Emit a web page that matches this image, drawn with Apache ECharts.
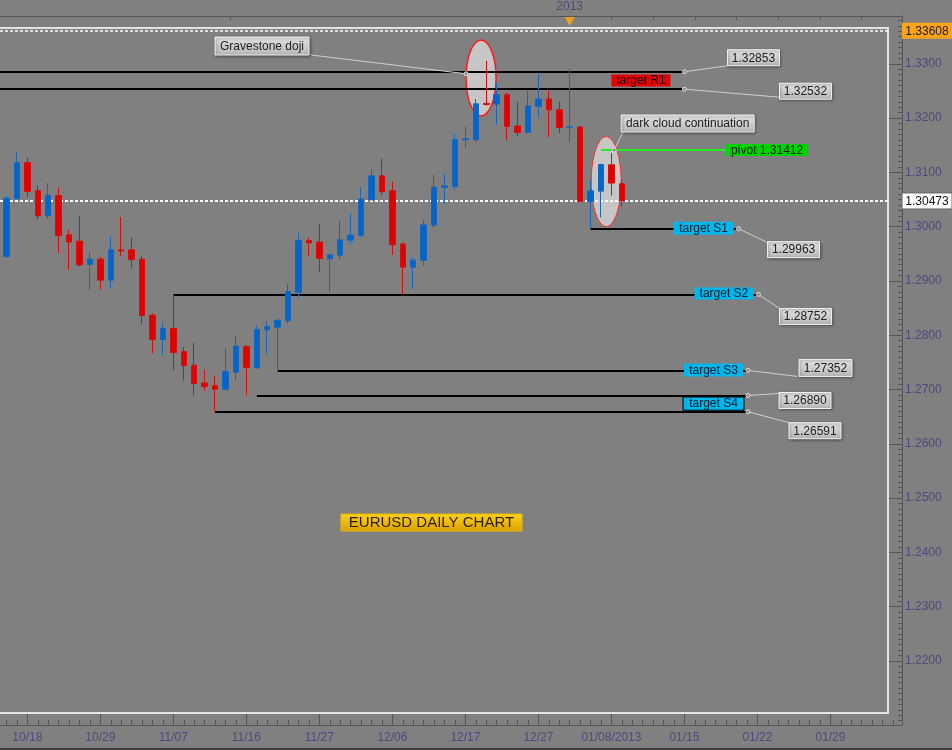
<!DOCTYPE html>
<html><head><meta charset="utf-8">
<script src="https://cdn.jsdelivr.net/npm/echarts@6/dist/echarts.min.js"></script>
<style>html,body{margin:0;padding:0;background:#808080;}#c{width:952px;height:750px;}</style>
</head><body><div id="c"></div>
<script>
// ---------- DATA ----------
const dates = ['10/16','10/17','10/18','10/19','10/22','10/23','10/24','10/25','10/26','10/29',
 '10/30','10/31','11/01','11/02','11/05','11/06','11/07','11/08','11/09','11/12',
 '11/13','11/14','11/15','11/16','11/19','11/20','11/21','11/22','11/23','11/26',
 '11/27','11/28','11/29','11/30','12/03','12/04','12/05','12/06','12/07','12/10',
 '12/11','12/12','12/13','12/14','12/17','12/18','12/19','12/20','12/21','12/24',
 '12/26','12/27','12/28','12/31','01/02','01/03','01/04','01/07','01/08','01/09'];
const opens = [1.29449,1.30512,1.31181,1.30660,1.30199,1.30573,1.29849,1.29733,1.29302,1.29401,
 1.29014,1.29573,1.29573,1.29401,1.28369,1.27920,1.28123,1.27699,1.27448,1.27122,
 1.27072,1.27006,1.27319,1.27791,1.27398,1.28099,1.28148,1.28264,1.28793,1.29744,
 1.29715,1.29407,1.29475,1.29751,1.29836,1.30494,1.30936,1.30660,1.29678,1.29254,
 1.29376,1.30028,1.30721,1.30739,1.31600,1.31600,1.32270,1.32257,1.32429,1.31852,
 1.31734,1.32213,1.32350,1.32152,1.31830,1.31834,1.30463,1.30654,1.31139,1.30789];
const closes = [1.30525,1.31181,1.30647,1.30199,1.30573,1.29836,1.29715,1.29296,1.29401,1.29014,
 1.29573,1.29554,1.29394,1.28362,1.27920,1.28123,1.27680,1.27441,1.27109,1.27054,
 1.27006,1.27330,1.27798,1.27404,1.28104,1.28159,1.28277,1.28804,1.29744,1.29702,
 1.29412,1.29480,1.29757,1.29844,1.30507,1.30936,1.30641,1.29665,1.29254,1.29383,
 1.30033,1.30728,1.30752,1.31605,1.31620,1.32263,1.32250,1.32429,1.31845,1.31734,
 1.32226,1.32350,1.32152,1.31826,1.31840,1.30463,1.30660,1.31144,1.30802,1.30473];
const lows = [1.29420,1.30503,1.30544,1.30125,1.30144,1.29512,1.29204,1.29265,1.28823,1.28836,
 1.28860,1.29449,1.29235,1.28204,1.27669,1.27632,1.27349,1.27164,1.26888,1.26975,
 1.26591,1.26993,1.27164,1.26890,1.27385,1.27638,1.27352,1.28222,1.28683,1.29449,
 1.29154,1.28799,1.29388,1.29678,1.29807,1.30485,1.30586,1.29480,1.28762,1.28854,
 1.29278,1.29973,1.30415,1.30678,1.31447,1.31550,1.32226,1.31876,1.31587,1.31660,
 1.31729,1.32010,1.31649,1.31723,1.31568,1.30463,1.29963,1.30168,1.30573,1.30370];
const highs = [1.30568,1.31366,1.31268,1.30752,1.30802,1.30728,1.29941,1.30199,1.29541,1.29438,
 1.29812,1.30175,1.29799,1.29468,1.28406,1.28233,1.28743,1.27780,1.27865,1.27362,
 1.27256,1.27761,1.27988,1.27817,1.28178,1.28264,1.28296,1.28946,1.29880,1.29807,
 1.30052,1.29493,1.30107,1.30249,1.30728,1.31060,1.31250,1.30831,1.29707,1.29438,
 1.30125,1.30955,1.30973,1.31710,1.31845,1.32350,1.33055,1.32644,1.32471,1.32305,
 1.32508,1.32816,1.32502,1.32305,1.32908,1.31858,1.30863,1.31160,1.31354,1.30863];
const xTickPos = [2,9,16,23,30,37,44,51,58,65,72,79];
const xTickLabels = ['10/18','10/29','11/07','11/16','11/27','12/06','12/17','12/27','01/08/2013','01/15','01/22','01/29'];
const topTickPos = [21.5,58,62,66,70,74,78,82];
const yTickValues = [1.22,1.23,1.24,1.25,1.26,1.27,1.28,1.29,1.30,1.31,1.32,1.33];
const levelValues = [1.32853,1.32532,1.31412,1.29963,1.28752,1.27352,1.26890,1.26591];
const levelStart = [null,null,57,56,16,26,24,20];
const levelEnd = [65,65,69,70,72,71,71,71];
const lastPrice = 1.30473;
const maxPrice = 1.33608;
const yearMarkIdx = 54;
const dojiCenter = [45.5,1.3274];
const cloudCenter = [57.5,1.3083];

// ---------- CHART ----------
const X0 = -0.62, X1 = 85.86, Y0 = 1.2082, Y1 = 1.3388;
const FONT = '"Liberation Sans", Arial, sans-serif';
const AX = '#4a4a80';
const chart = echarts.init(document.getElementById('c'), null, {renderer:'canvas'});
const minorX = []; for (let i = 0; i <= 85; i++) minorX.push(i);
const minorY = []; for (let k = 1209; k <= 1338; k++) minorY.push(k / 1000);
const candleData = dates.map((d, i) => [i, opens[i], closes[i], lows[i], highs[i]]);

const levelLines = levelValues.map((v, i) => [
  {coord:[levelStart[i] == null ? X0 : levelStart[i], v]},
  {coord:[levelEnd[i], v], lineStyle: i === 2 ? {color:'#22ee22', width:2, type:'solid'} : undefined}
]);
const markData = levelLines.concat([
  [{coord:[X0, lastPrice], lineStyle:{color:'#ffffff', width:2, type:[3,2]}}, {coord:[84.5, lastPrice]}],
  [{coord:[X0, maxPrice], lineStyle:{color:'#ffffff', width:1.5, type:[3,2]}}, {coord:[84.5, maxPrice]}]
]);

const option = {
  backgroundColor:'#808080',
  animation:false,
  grid:{left:0, right:50, top:16, bottom:25},
  xAxis:[
    {type:'value', min:X0, max:X1, position:'bottom',
     axisLine:{onZero:false, lineStyle:{color:'#555', width:1}},
     axisTick:{inside:true, length:13, customValues:xTickPos, lineStyle:{color:'#555'}},
     axisLabel:{customValues:xTickPos, color:AX, fontFamily:FONT, fontSize:12, margin:7,
       formatter:v => { const k = xTickPos.indexOf(Math.round(v)); return k >= 0 ? xTickLabels[k] : ''; }},
     splitLine:{show:false}},
    {type:'value', min:X0, max:X1, position:'bottom',
     axisLine:{show:false, onZero:false},
     axisTick:{inside:true, length:5, customValues:minorX, lineStyle:{color:'#555'}},
     axisLabel:{show:false}, splitLine:{show:false}},
    {type:'value', min:X0, max:X1, position:'top',
     axisLine:{onZero:false, lineStyle:{color:'#555'}},
     axisTick:{inside:true, length:4, customValues:topTickPos, lineStyle:{color:'#555'}},
     axisLabel:{show:false}, splitLine:{show:false}}
  ],
  yAxis:[
    {type:'value', min:Y0, max:Y1, position:'right',
     axisLine:{show:true, onZero:false, lineStyle:{color:'#555'}},
     axisTick:{inside:true, length:14, customValues:yTickValues, lineStyle:{color:'#555'}},
     axisLabel:{customValues:yTickValues, color:AX, fontFamily:FONT, fontSize:12, margin:3,
       formatter:v => v.toFixed(4)},
     splitLine:{show:false}},
    {type:'value', min:Y0, max:Y1, position:'right',
     axisLine:{show:false, onZero:false},
     axisTick:{inside:true, length:4, customValues:minorY, lineStyle:{color:'#555'}},
     axisLabel:{show:false}, splitLine:{show:false}}
  ],
  series:[{
    type:'candlestick', xAxisIndex:0, yAxisIndex:0, barWidth:6, z:5,
    data:candleData,
    itemStyle:{color:'#0066cc', color0:'#e00000', borderColor:'#1a66b8', borderColor0:'#d41010', borderWidth:1},
    markLine:{silent:true, symbol:['none','none'], label:{show:false}, animation:false,
      lineStyle:{color:'#000', width:2, type:'solid'}, data:markData}
  }]
};
chart.setOption(option);

// ---------- ANNOTATIONS ----------
const px = (x, y) => chart.convertToPixel({seriesIndex:0}, [x, y]);
const g = [];
const grad = (a, b) => new echarts.graphic.LinearGradient(0, 0, 0, 1, [{offset:0, color:a}, {offset:1, color:b}]);
function tbox(x, y, w, h, text, fill, color, stroke, size) {
  g.push({type:'rect', z:30, shape:{x:x, y:y, width:w, height:h},
    style:{fill:fill, stroke:stroke || null, lineWidth:1}});
  g.push({type:'text', z:31, x:x + w / 2, y:y + h / 2 + 0.5,
    style:{text:text, align:'center', verticalAlign:'middle', font:(size || 12) + 'px ' + FONT, fill:color}});
}
function grayBox(x, y, w, h, text) {
  g.push({type:'rect', z:30, shape:{x:x, y:y, width:w, height:h},
    style:{fill:grad('#e6e6e6', '#b6b6b6'), stroke:'#f4f4f4', lineWidth:1,
      shadowBlur:3, shadowColor:'rgba(0,0,0,0.45)', shadowOffsetX:1, shadowOffsetY:1}});
  g.push({type:'text', z:31, x:x + w / 2, y:y + h / 2 + 0.5,
    style:{text:text, align:'center', verticalAlign:'middle', font:'12px ' + FONT, fill:'#222'}});
}
function connector(x1, y1, x2, y2) {
  g.push({type:'line', z:29, shape:{x1:x1, y1:y1, x2:x2, y2:y2}, style:{stroke:'#cfcfcf', lineWidth:1}});
  g.push({type:'circle', z:29, shape:{cx:x1, cy:y1, r:2}, style:{fill:'#8a8a8a', stroke:'#dcdcdc', lineWidth:1}});
}
const ends = levelValues.map((v, i) => px(levelEnd[i], v));
const fmt = v => v.toFixed(5);

// frame
g.push({type:'rect', z:1, shape:{x:-3, y:28, width:891, height:685}, style:{fill:null, stroke:'#e4e4e4', lineWidth:2}});

// ellipses
const dc = px(dojiCenter[0], dojiCenter[1]);
const cc = px(cloudCenter[0], cloudCenter[1]);
g.push({type:'ellipse', z:2, shape:{cx:dc[0], cy:dc[1], rx:15, ry:38}, style:{fill:'#c6c6c6', stroke:'#ff1a1a', lineWidth:1.5}});
g.push({type:'ellipse', z:2, shape:{cx:cc[0], cy:cc[1], rx:15, ry:45}, style:{fill:'#c6c6c6', stroke:'#ff2a2a', lineWidth:1}});

// R levels
let [ex, ey] = ends[0];
connector(ex, ey, ex + 43, ey - 6); grayBox(ex + 43, ey - 22, 52, 16, fmt(levelValues[0]));
const eyR2 = ends[1][1];
connector(ends[1][0], eyR2, ends[1][0] + 95, eyR2 + 8); grayBox(ends[1][0] + 95, eyR2 - 6, 52, 16, fmt(levelValues[1]));
tbox(ex - 73, (ey + eyR2) / 2 - 6, 59, 12, 'target R1', '#e60000', '#1a0000');
// gravestone label
connector(dc[0] - 15, ey + 2, 311, 55);
grayBox(215, 37, 94, 18, 'Gravestone doji');
// pivot
[ex, ey] = ends[2];
tbox(ex, ey - 6, 82, 12, 'pivot ' + fmt(levelValues[2]), '#00d400', '#002000');
connector(ex - 112, ey, ex - 103, ey - 18);
grayBox(ex - 105, ey - 35, 133, 17, 'dark cloud continuation');
// S1
[ex, ey] = ends[3];
tbox(ex - 63, ey - 7, 60, 13, 'target S1', '#00b6ea', '#062030');
connector(ex + 2, ey, ex + 31, ey + 14); grayBox(ex + 31, ey + 13, 52, 16, fmt(levelValues[3]));
// S2
[ex, ey] = ends[4];
tbox(ex - 63, ey - 7, 59, 12, 'target S2', '#00b6ea', '#062030');
connector(ex + 1, ey, ex + 22, ey + 14); grayBox(ex + 22, ey + 14, 52, 16, fmt(levelValues[4]));
// S3
[ex, ey] = ends[5];
tbox(ex - 63, ey - 7, 59, 13, 'target S3', '#00b6ea', '#062030');
connector(ex + 1, ey, ex + 50, ey + 6); grayBox(ex + 52, ey - 11, 53, 17, fmt(levelValues[5]));
// S4
const [exA, eyA] = ends[6];
const [exB, eyB] = ends[7];
tbox(exA - 64, eyA + 1.5, 61, eyB - eyA - 3, 'target S4', '#00b6ea', '#062030', '#000');
connector(exA + 1, eyA, exA + 32, eyA - 2); grayBox(exA + 32, eyA - 3, 52, 16, fmt(levelValues[6]));
connector(exB + 1, eyB, exB + 42, eyB + 11); grayBox(exB + 42, eyB + 11, 52, 16, fmt(levelValues[7]));

// right price tags
const yMax = px(X0, maxPrice)[1], yLast = px(X0, lastPrice)[1];
tbox(902, yMax - 8, 50, 16, fmt(maxPrice), '#ffa31a', '#1a1a1a', null, 12);
tbox(902, yLast - 8, 50, 16, fmt(lastPrice), '#ffffff', '#111', '#666', 12);

// year marker
const yx = px(yearMarkIdx, maxPrice)[0];
g.push({type:'text', z:30, x:yx, y:7, style:{text:'2013', align:'center', verticalAlign:'middle', font:'12px ' + FONT, fill:AX}});
g.push({type:'polygon', z:30, shape:{points:[[yx - 5, 17], [yx + 5, 17], [yx, 26]]}, style:{fill:'#f0a020'}});

// title
g.push({type:'rect', z:30, shape:{x:341, y:514, width:181, height:17}, style:{fill:grad('#ffd21e', '#d9a000'), stroke:'#e8b800', lineWidth:1}});
g.push({type:'text', z:31, x:431.5, y:523, style:{text:'EURUSD DAILY CHART', align:'center', verticalAlign:'middle', font:'15px ' + FONT, fill:'#2a1e00'}});

// bottom border
g.push({type:'rect', z:30, shape:{x:0, y:748, width:952, height:2}, style:{fill:'#3c3c3c'}});

chart.setOption({graphic:{elements:g}});
</script></body></html>
